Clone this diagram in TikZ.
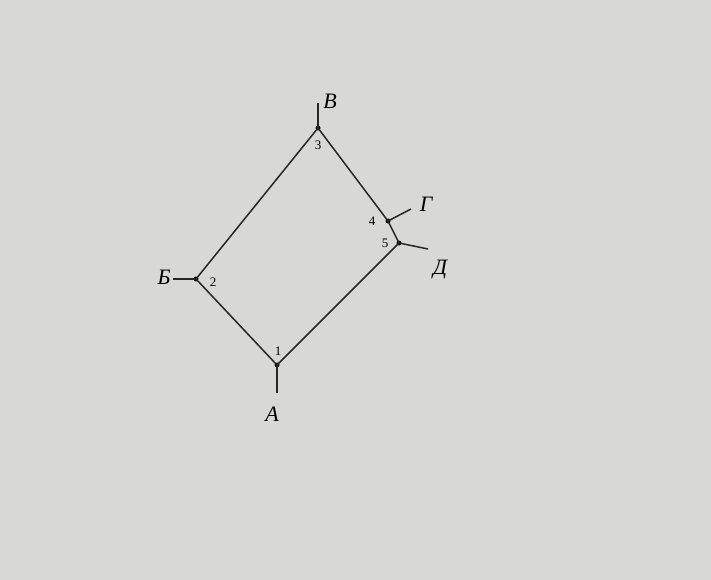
\documentclass[tikz,border=0pt]{standalone}
\usepackage{fontspec}
\setmainfont{Liberation Serif}
\begin{document}
\begin{tikzpicture}[x=1pt,y=-1pt,
  edge/.style={line width=1.5pt, black!85},
  vtx/.style={circle, fill=black, inner sep=0pt, minimum size=5pt},
  lett/.style={font=\itshape\fontsize{22}{22}\selectfont, inner sep=0pt},
  num/.style={font=\fontsize{13}{13}\selectfont, inner sep=0pt}]
\fill[fill={rgb,255:red,216;green,216;blue,214}] (0,0) rectangle (711,580);
\useasboundingbox (0,0) rectangle (711,580);
\node[vtx] (n1) at (277,365) {};
\node[vtx] (n2) at (196,279) {};
\node[vtx] (n3) at (318,128) {};
\node[vtx] (n4) at (388,221) {};
\node[vtx] (n5) at (399,243) {};
\coordinate (e1) at (277,393);
\coordinate (e2) at (173,279);
\coordinate (e3) at (318,103);
\coordinate (e4) at (411,209);
\coordinate (e5) at (428,249);
\draw[edge] (n1.center) -- (n2.center) -- (n3.center) -- (n4.center) -- (n5.center) -- (n1.center);
\draw[edge] (n1.center) -- (e1);
\draw[edge] (n2.center) -- (e2);
\draw[edge] (n3.center) -- (e3);
\draw[edge] (n4.center) -- (e4);
\draw[edge] (n5.center) -- (e5);
\node[lett] (lA) at (272,414) {А};
\node[lett] (lB) at (164,277) {Б};
\node[lett] (lV) at (330,101) {В};
\node[lett] (lG) at (426,204) {Г};
\node[lett] (lD) at (440,270) {Д};
\node[num] (t1) at (278,351) {1};
\node[num] (t2) at (213,282) {2};
\node[num] (t3) at (318,145) {3};
\node[num] (t4) at (372,221) {4};
\node[num] (t5) at (385,243) {5};
\end{tikzpicture}
\end{document}
